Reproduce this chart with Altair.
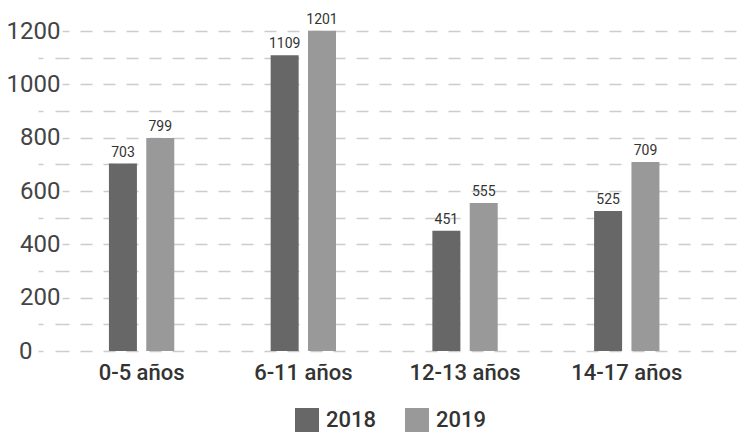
import altair as alt
import pandas as pd

groups = ["0-5 años", "6-11 años", "12-13 años", "14-17 años"]
years = ["2018", "2019"]
values_2018 = [703, 1109, 451, 525]
values_2019 = [799, 1201, 555, 709]
y_ticks = list(range(0, 1201, 100))
colors = ["#676767", "#999999"]

rows = []
for g, a, b in zip(groups, values_2018, values_2019):
    rows.append({"grupo": g, "anio": years[0], "valor": a})
    rows.append({"grupo": g, "anio": years[1], "valor": b})
df = pd.DataFrame(rows)

FONT = "Roboto"
ylabel_expr = "datum.value % 200 == 0 ? datum.label : ''"

x = alt.X(
    "grupo:N", sort=groups, title=None,
    scale=alt.Scale(paddingInner=0.596, paddingOuter=0.388, align=0.374),
    axis=alt.Axis(labelAngle=0, ticks=False, domain=False, labelFont=FONT,
                  labelFontSize=22, labelFontWeight=500, labelColor="#333333",
                  labelPadding=11),
)
xo = alt.XOffset("anio:N", sort=years, scale=alt.Scale(paddingInner=0.25, paddingOuter=0))
y = alt.Y(
    "valor:Q", title=None, scale=alt.Scale(domain=[0, 1200], nice=False),
    axis=alt.Axis(
        values=y_ticks, format="d", labelExpr=ylabel_expr, labelOverlap=False,
        domain=False, grid=True, gridDash=[12, 11], gridDashOffset=5,
        gridColor="#cccccc", gridWidth=1.5,
        tickSize=24, tickDash=[7, 12], tickColor="#cccccc", tickWidth=1.5,
        tickOpacity={"condition": {"test": "datum.value % 200 != 0 || datum.value == 0", "value": 1}, "value": 0},
        labelPadding={"condition": {"test": "datum.value == 0", "value": 6}, "value": -22},
        labelFont=FONT, labelFontSize=24, labelColor="#444444",
    ),
)

bars = alt.Chart(df).mark_bar(size=28).encode(
    x=x, xOffset=xo, y=y,
    color=alt.Color(
        "anio:N", sort=years, scale=alt.Scale(domain=years, range=colors),
        legend=alt.Legend(
            title=None, orient="none", legendX=233, legendY=377, direction="horizontal",
            symbolType="square", symbolSize=576, symbolStrokeWidth=0,
            symbolOpacity=1, labelFont=FONT, labelFontSize=22, labelFontWeight=500,
            labelColor="#333333", labelOffset=7, columnPadding=28, padding=0,
        ),
    ),
)

labels = alt.Chart(df).mark_text(
    dy=-7, baseline="alphabetic", fontSize=14, color="#333333", font=FONT
).encode(x=x, xOffset=xo, y=y, text=alt.Text("valor:Q", format="d"))

chart = alt.layer(bars, labels).properties(
    width=676, height=320,
    padding={"left": 54, "top": 23, "right": 0, "bottom": 84},
    autosize=alt.AutoSizeParams(type="none"),
).configure_view(stroke=None)

chart.save("out.html", embed_options={"renderer": "svg", "actions": False})
